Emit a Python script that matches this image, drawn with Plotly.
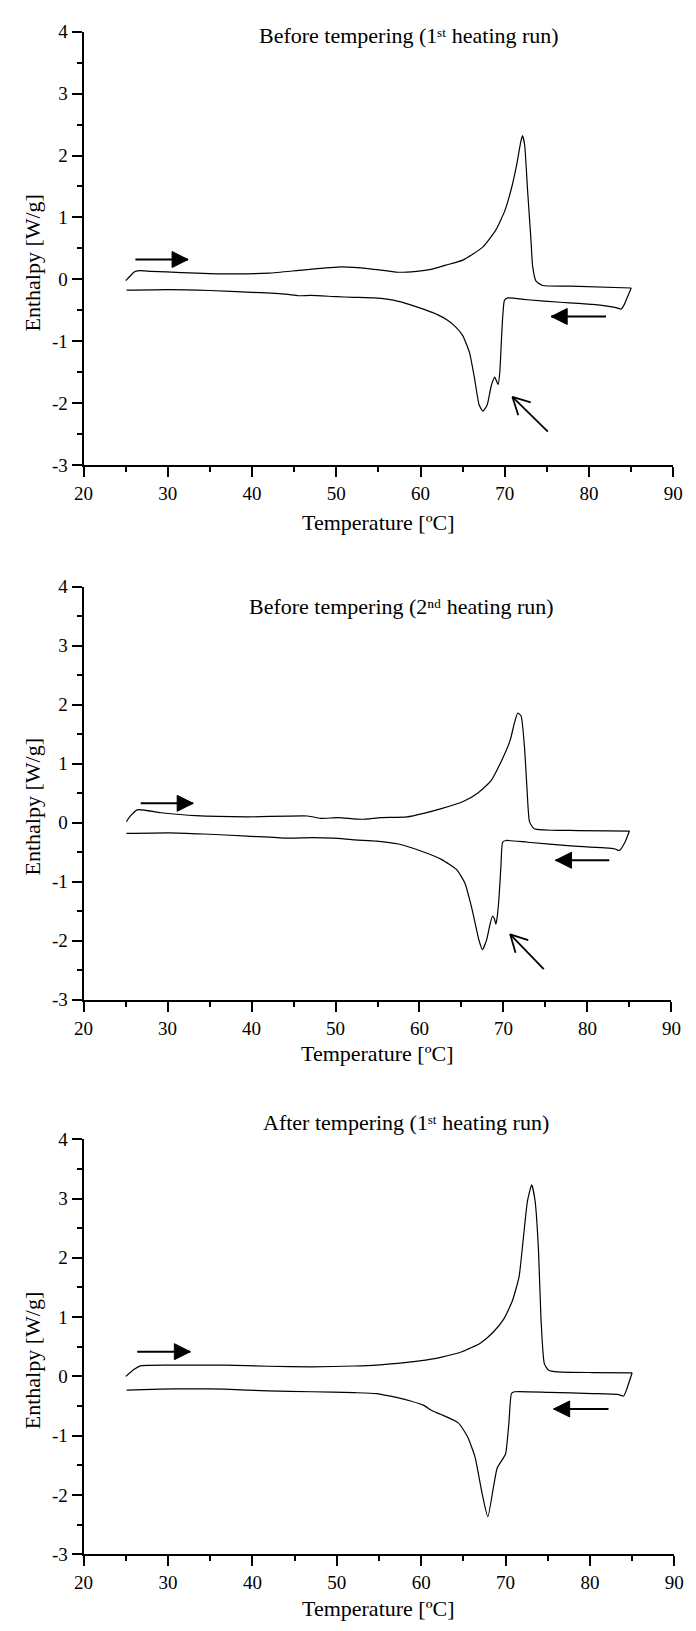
import math
import plotly.graph_objects as go

FONT = "Liberation Serif, DejaVu Serif, Times New Roman, serif"

# ---------------- data ----------------
# Panel 1: Before tempering (1st heating run)
p1_heat_T = [25.0, 25.5, 26.0, 26.6, 28.0, 31.6, 36.8, 42.0, 46.0, 50.6, 54.0, 57.3, 59.5, 61.2,
             63.0, 65.0, 67.4, 68.9, 70.0, 70.8, 71.4, 71.9, 72.1, 72.35, 72.7, 73.1, 73.3, 73.7,
             74.5, 77.8, 85.0]
p1_heat_y = [-0.02, 0.05, 0.12, 0.14, 0.13, 0.11, 0.09, 0.10, 0.15, 0.20, 0.17, 0.115, 0.13, 0.16,
             0.23, 0.31, 0.525, 0.79, 1.11, 1.48, 1.85, 2.23, 2.32, 2.17, 1.43, 0.63, 0.21, -0.03,
             -0.10, -0.11, -0.14]
p1_cool_T = [85.0, 84.5, 84.2, 83.8, 83.3, 80.4, 76.6, 72.7, 70.35, 69.95, 69.75, 69.6, 69.4, 69.2,
             69.0, 68.8, 68.4, 67.9, 67.4, 66.95, 66.4, 65.8, 65.0, 64.1, 63.2, 62.0, 60.5, 59.0,
             57.5, 56.0, 54.5, 52.0, 50.0, 47.0, 45.5, 44.0, 40.0, 35.0, 30.0, 25.1]
p1_cool_y = [-0.14, -0.30, -0.40, -0.48, -0.46, -0.405, -0.37, -0.33, -0.30, -0.34, -0.60, -0.96,
             -1.50, -1.70, -1.64, -1.58, -1.71, -2.03, -2.13, -2.03, -1.60, -1.18, -0.91, -0.76,
             -0.66, -0.57, -0.49, -0.42, -0.36, -0.32, -0.30, -0.29, -0.28, -0.26, -0.265, -0.24,
             -0.21, -0.18, -0.165, -0.175]

# Panel 2: Before tempering (2nd heating run)
p2_heat_T = [25.1, 25.6, 26.4, 29.2, 33.3, 39.5, 46.7, 48.2, 50.3, 53.1, 55.4, 58.5, 60.5, 62.6,
             65.2, 67.0, 68.5, 69.8, 70.8, 71.3, 71.7, 72.1, 72.5, 72.8, 73.1, 73.65, 78.0, 85.0]
p2_heat_y = [0.02, 0.12, 0.22, 0.17, 0.12, 0.10, 0.115, 0.075, 0.087, 0.06, 0.087, 0.10, 0.16, 0.24,
             0.36, 0.51, 0.71, 1.06, 1.40, 1.69, 1.86, 1.81, 1.29, 0.59, 0.02, -0.10, -0.13, -0.14]
p2_cool_T = [85.0, 84.5, 83.8, 83.2, 78.0, 72.9, 70.3, 69.9, 69.7, 69.45, 69.25, 69.1, 68.9, 68.7,
             68.4, 68.0, 67.5, 67.1, 66.2, 65.4, 64.4, 62.6, 60.0, 57.5, 54.9, 52.3, 49.75, 47.2,
             44.1, 39.5, 34.3, 30.2, 25.1]
p2_cool_y = [-0.14, -0.32, -0.47, -0.44, -0.39, -0.33, -0.30, -0.33, -0.73, -1.31, -1.60, -1.72,
             -1.62, -1.58, -1.72, -1.98, -2.15, -2.00, -1.43, -1.02, -0.79, -0.62, -0.47, -0.36,
             -0.31, -0.29, -0.26, -0.25, -0.26, -0.225, -0.19, -0.17, -0.18]

# Panel 3: After tempering (1st heating run)
p3_heat_T = [25.0, 26.0, 26.8, 31.6, 36.7, 41.9, 47.0, 52.1, 54.7, 57.2, 59.8, 62.3, 64.9, 67.0,
             68.5, 69.8, 70.8, 71.6, 72.1, 72.6, 73.1, 73.5, 73.9, 74.2, 74.6, 75.1, 76.2, 80.3, 85.0]
p3_heat_y = [0.0, 0.12, 0.18, 0.19, 0.19, 0.17, 0.16, 0.175, 0.19, 0.22, 0.26, 0.32, 0.42, 0.56,
             0.74, 0.97, 1.27, 1.68, 2.32, 2.96, 3.23, 2.96, 2.14, 0.97, 0.21, 0.105, 0.076, 0.064, 0.06]
p3_cool_T = [85.0, 84.4, 84.0, 83.3, 80.3, 75.15, 71.05, 70.7, 70.4, 70.0, 69.5, 69.0, 68.6, 67.9,
             67.2, 66.4, 65.5, 64.4, 62.3, 61.3, 60.3, 58.75, 57.2, 54.7, 52.1, 47.0, 41.9, 36.7,
             32.6, 29.1, 25.1]
p3_cool_y = [0.06, -0.20, -0.33, -0.305, -0.29, -0.27, -0.26, -0.29, -0.78, -1.31, -1.43, -1.55,
             -1.84, -2.37, -1.96, -1.37, -1.02, -0.785, -0.64, -0.58, -0.49, -0.416, -0.36, -0.29,
             -0.275, -0.26, -0.246, -0.217, -0.21, -0.217, -0.234]

# Arrows: (tail_T, tail_y, head_T, head_y)
p1_arrows_filled = [(26.15, 0.32, 32.4, 0.32), (82.0, -0.60, 75.5, -0.60)]
p1_arrows_open = [(75.1, -2.46, 70.9, -1.90)]
p2_arrows_filled = [(26.8, 0.33, 33.05, 0.33), (82.6, -0.635, 76.2, -0.635)]
p2_arrows_open = [(74.8, -2.48, 70.8, -1.89)]
p3_arrows_filled = [(26.35, 0.416, 32.65, 0.416), (82.2, -0.55, 75.7, -0.55)]
p3_arrows_open = []

titles = ["Before tempering (1\u02e2\u1d57 heating run)",
          "Before tempering (2\u207f\u1d48 heating run)",
          "After tempering (1\u02e2\u1d57 heating run)"]
x_title = "Temperature [ºC]"
y_title = "Enthalpy [W/g]"
x_ticks = [20, 30, 40, 50, 60, 70, 80, 90]
y_ticks = [-3, -2, -1, 0, 1, 2, 3, 4]
X_RANGE = [20, 90]
Y_RANGE = [-3, 4]

# ---------------- layout geometry (pixels) ----------------
W, H = 696, 1631
panels = [
    dict(x=(76.7, 683.0), y=(22.0, 461.0), title=(411, 26), xt=519, yt=256,
         heat=(p1_heat_T, p1_heat_y), cool=(p1_cool_T, p1_cool_y),
         af=p1_arrows_filled, ao=p1_arrows_open),
    dict(x=(76.7, 681.0), y=(584.3, 1002.7), title=(404, 604), xt=1057, yt=807,
         heat=(p2_heat_T, p2_heat_y), cool=(p2_cool_T, p2_cool_y),
         af=p2_arrows_filled, ao=p2_arrows_open),
    dict(x=(76.7, 684.0), y=(1144.0, 1564.3), title=(408, 1127), xt=1619, yt=1368,
         heat=(p3_heat_T, p3_heat_y), cool=(p3_cool_T, p3_cool_y),
         af=p3_arrows_filled, ao=p3_arrows_open),
]


def px(xp):
    return xp / W


def py(yp):
    return 1 - yp / H


fig = go.Figure()
annotations = []
layout = dict(width=W, height=H, margin=dict(l=0, r=0, t=0, b=0),
              paper_bgcolor="white", plot_bgcolor="white", showlegend=False,
              font=dict(family=FONT, color="black"))

for i, p in enumerate(panels):
    n = "" if i == 0 else str(i + 1)
    xa, ya = "x" + n, "y" + n
    # pixels per data unit (for the open-arrow wings)
    sx = (p["x"][1] - p["x"][0]) / (X_RANGE[1] - X_RANGE[0])
    sy = (p["y"][1] - p["y"][0]) / (Y_RANGE[1] - Y_RANGE[0])

    for T, v in (p["heat"], p["cool"]):
        fig.add_trace(go.Scatter(x=T, y=v, mode="lines", xaxis=xa, yaxis=ya,
                                 line=dict(color="black", width=1.2, shape="spline", smoothing=0.5),
                                 hoverinfo="skip"))

    # filled arrows: shaft + arrow-head marker at the head point
    for (t0, v0, t1, v1) in p["af"]:
        head = "arrow-right" if t1 > t0 else "arrow-left"
        fig.add_trace(go.Scatter(x=[t0, t1], y=[v0, v1], mode="lines+markers", xaxis=xa, yaxis=ya,
                                 line=dict(color="black", width=2),
                                 marker=dict(symbol=["circle", head], size=[0, 16], color="black",
                                             opacity=1, line=dict(width=1, color="black")),
                                 hoverinfo="skip"))
    # open arrows: shaft + two wings
    for (t0, v0, t1, v1) in p["ao"]:
        dxp, dyp = (t0 - t1) * sx, (v0 - v1) * sy
        ln = math.hypot(dxp, dyp)
        ux, uy = dxp / ln, dyp / ln
        wl, wa = 19.5, math.radians(28)
        wings = []
        for s in (1, -1):
            c, si = math.cos(s * wa), math.sin(s * wa)
            wx, wy = (ux * c - uy * si) * wl, (ux * si + uy * c) * wl
            wings.append((t1 + wx / sx, v1 + wy / sy))
        fig.add_trace(go.Scatter(
            x=[t0, t1, None, wings[0][0], t1, wings[1][0]],
            y=[v0, v1, None, wings[0][1], v1, wings[1][1]],
            mode="lines", xaxis=xa, yaxis=ya,
            line=dict(color="black", width=1.8), hoverinfo="skip"))

    tickfont = dict(family=FONT, size=19, color="black")
    layout["xaxis" + n] = dict(
        domain=[px(p["x"][0]), px(p["x"][1])], anchor=ya, range=X_RANGE,
        tickvals=x_ticks, ticktext=[str(t) for t in x_ticks],
        showline=True, linecolor="black", linewidth=2, ticks="outside", ticklen=10,
        tickwidth=2, tickcolor="black", showgrid=False, zeroline=False, tickfont=tickfont,
        minor=dict(dtick=5, tick0=20, ticks="outside", ticklen=5, tickwidth=2, tickcolor="black",
                   showgrid=False))
    layout["yaxis" + n] = dict(
        domain=[py(p["y"][1]), py(p["y"][0])], anchor=xa, range=Y_RANGE,
        tickvals=y_ticks, ticktext=[str(t) for t in y_ticks],
        showline=True, linecolor="black", linewidth=2, ticks="outside", ticklen=10,
        tickwidth=2, tickcolor="black", showgrid=False, zeroline=False, tickfont=tickfont,
        minor=dict(dtick=0.5, tick0=0, ticks="outside", ticklen=5, tickwidth=2, tickcolor="black",
                   showgrid=False))
    # text
    annotations.append(dict(text=titles[i], x=px(p["title"][0]), y=py(p["title"][1]),
                            xref="paper", yref="paper", showarrow=False,
                            xanchor="center", yanchor="middle",
                            font=dict(family=FONT, size=22, color="black")))
    annotations.append(dict(text=x_title, x=px((p["x"][0] + p["x"][1]) / 2), y=py(p["xt"]),
                            xref="paper", yref="paper", showarrow=False,
                            xanchor="center", yanchor="middle",
                            font=dict(family=FONT, size=22, color="black")))
    annotations.append(dict(text=y_title, x=px(24.5), y=py(p["yt"]), textangle=-90,
                            xref="paper", yref="paper", showarrow=False,
                            xanchor="center", yanchor="middle",
                            font=dict(family=FONT, size=22, color="black")))

layout["annotations"] = annotations
fig.update_layout(**layout)
fig.write_html("out.html")
